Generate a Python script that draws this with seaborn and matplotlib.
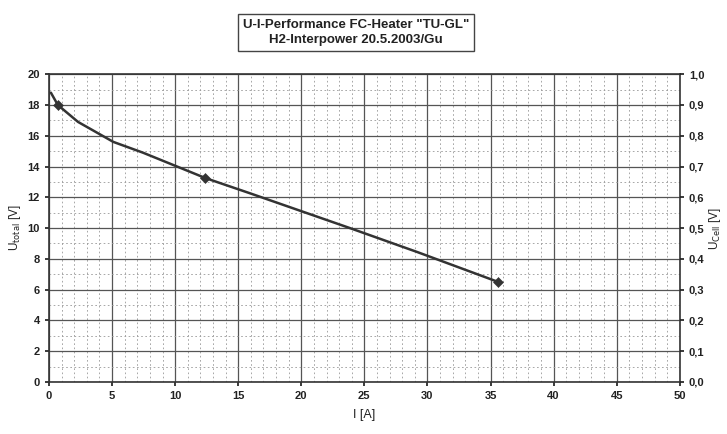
import matplotlib
matplotlib.use("Agg")
import matplotlib.pyplot as plt
import seaborn as sns
import pandas as pd
from matplotlib.ticker import MultipleLocator, FuncFormatter

# Measured points (markers)
meas_current = [0.7, 12.4, 35.6]
meas_voltage = [18.0, 13.25, 6.5]
# Curve
curve_current = [0.15, 0.7, 2.3, 5.1, 7.45, 12.4, 15.9, 23.85, 29.2, 35.6]
curve_voltage = [18.8, 18.0, 16.9, 15.6, 14.9, 13.25, 12.27, 10.0, 8.44, 6.5]

title_text = 'U-I-Performance FC-Heater "TU-GL"\nH2-Interpower 20.5.2003/Gu'

sns.set_theme(style="white")
plt.rcParams['font.family'] = ['Liberation Sans', 'DejaVu Sans']

fig = plt.figure(figsize=(7.27, 4.34), dpi=100)
ax = fig.add_axes([0.0674, 0.12, 0.8676, 0.709])

curve = pd.DataFrame({"I": curve_current, "U": curve_voltage})
meas = pd.DataFrame({"I": meas_current, "U": meas_voltage})
sns.lineplot(data=curve, x="I", y="U", ax=ax, color="#333333", linewidth=1.8, sort=True, estimator=None)
sns.scatterplot(data=meas, x="I", y="U", ax=ax, color="#333333", s=26, marker="D", edgecolor="#333333", zorder=5)

ax.set_xlim(0, 50)
ax.set_ylim(0, 20)
ax.xaxis.set_major_locator(MultipleLocator(5))
ax.yaxis.set_major_locator(MultipleLocator(2))
ax.xaxis.set_minor_locator(MultipleLocator(1))
ax.yaxis.set_minor_locator(MultipleLocator(1))
ax.grid(which="major", color="#555555", linewidth=0.9, linestyle="-")
ax.grid(which="minor", color="#999999", linewidth=0.6, linestyle=(0, (2, 3)))
for s in ax.spines.values():
    s.set_color("#333333")
    s.set_linewidth(1.2)
ax.tick_params(axis="both", which="major", labelsize=8, colors="#222222", length=3, direction="out", left=True, bottom=True)
ax.tick_params(axis="both", which="minor", length=0)
for lab in ax.get_xticklabels() + ax.get_yticklabels():
    lab.set_fontweight("bold")
ax.set_xlabel("I [A]", fontsize=9, color="#222222", labelpad=6)
ax.set_ylabel(r"U$_{\mathrm{total}}$ [V]", fontsize=8.5, color="#222222", labelpad=3)

ax2 = ax.twinx()
ax2.set_ylim(0, 1.0)
ax2.yaxis.set_major_locator(MultipleLocator(0.1))
ax2.yaxis.set_major_formatter(FuncFormatter(lambda v, p: f"{v:.1f}".replace(".", ",")))
ax2.tick_params(axis="y", labelsize=8, colors="#222222", length=3, right=True)
for lab in ax2.get_yticklabels():
    lab.set_fontweight("bold")
ax2.set_ylabel(r"U$_{\mathrm{Cell}}$ [V]", fontsize=8.5, color="#222222", labelpad=2)
ax2.grid(False)
for s in ax2.spines.values():
    s.set_visible(False)

fig.text(0.49, 0.925, title_text, ha="center", va="center", fontsize=9.5, fontweight="bold",
         color="#222222", linespacing=1.4,
         bbox=dict(boxstyle="square,pad=0.35", facecolor="white", edgecolor="#444444", linewidth=1.0))

fig.savefig("out.png", dpi=100)
